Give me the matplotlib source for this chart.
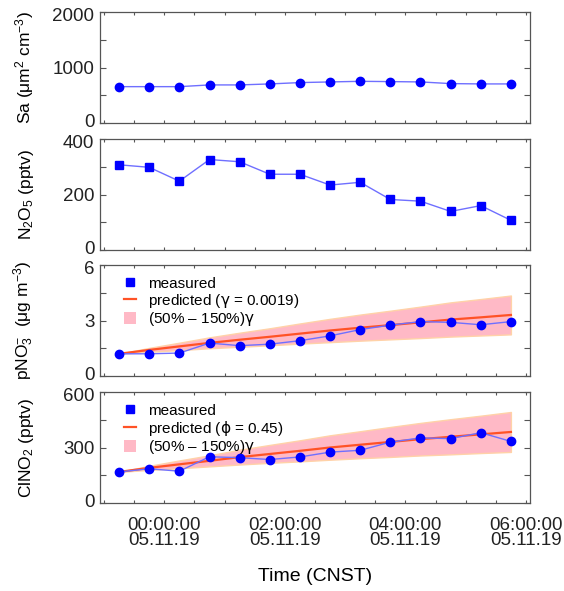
import matplotlib
matplotlib.use("Agg")
import matplotlib.pyplot as plt
import matplotlib.dates as mdates
import matplotlib.transforms as mtransforms
from matplotlib.lines import Line2D
from matplotlib.patches import Patch
import pandas as pd

plt.rcParams['font.family'] = ['Liberation Sans', 'DejaVu Sans']
plt.rcParams['mathtext.fontset'] = 'custom'
plt.rcParams['mathtext.rm'] = 'Liberation Sans'
plt.rcParams['mathtext.it'] = 'Liberation Sans:italic'
plt.rcParams['mathtext.sf'] = 'DejaVu Sans'

# --- data ---
times = pd.date_range('2019-11-04 23:15', periods=14, freq='30min')

sa = [655, 655, 655, 686, 686, 704, 728, 740, 751, 746, 740, 710, 704, 704]
n2o5 = [307, 298, 248, 326, 318, 273, 273, 234, 244, 182, 176, 139, 160, 107]

pno3 = [1.20, 1.20, 1.24, 1.78, 1.64, 1.72, 1.91, 2.17, 2.51, 2.75, 2.94, 2.90, 2.77, 2.94]
pno3_pred = [1.20, 1.41, 1.60, 1.79, 1.96, 2.12, 2.29, 2.46, 2.61, 2.75, 2.90, 3.05, 3.17, 3.30]
pno3_hi = [1.20, 1.52, 1.80, 2.09, 2.34, 2.58, 2.84, 3.09, 3.32, 3.53, 3.75, 3.98, 4.16, 4.35]
pno3_lo = [1.20, 1.31, 1.40, 1.50, 1.58, 1.66, 1.75, 1.83, 1.91, 1.98, 2.05, 2.13, 2.19, 2.25]

clno2 = [168, 185, 172, 250, 245, 235, 249, 275, 285, 329, 352, 348, 380, 333]
clno2_pred = [168, 190, 209, 228, 248, 265, 282, 300, 315, 330, 345, 358, 371, 384]
clno2_hi = [168, 201, 230, 258, 288, 314, 339, 366, 388, 411, 433, 453, 472, 492]
clno2_lo = [168, 179, 188, 198, 208, 217, 225, 234, 242, 249, 257, 263, 270, 276]

xlim = (pd.Timestamp('2019-11-04 22:56'), pd.Timestamp('2019-11-05 06:04'))

BLUE = '#0000ff'
LINE_BLUE = '#6f6fff'
RED = '#ff5226'
PINK = '#ffb9c6'
SPINE = '#555555'

fig = plt.figure(figsize=(5.64, 5.91), dpi=100)
left, width, height = 100 / 564, 430 / 564, 111 / 591
tops = [12, 139, 265, 392]
axes = [fig.add_axes([left, 1 - (t + 111) / 591, width, height]) for t in tops]
ax1, ax2, ax3, ax4 = axes


def style(ax, ymax, labeled, minor):
    ax.set_xlim(xlim)
    ax.set_ylim(0, ymax)
    ax.set_yticks(labeled)
    ax.set_yticks(minor, minor=True)
    ax.xaxis.set_major_locator(mdates.HourLocator(byhour=[0, 2, 4, 6]))
    ax.xaxis.set_minor_locator(mdates.MinuteLocator(byminute=[0, 30]))
    ax.tick_params(axis='both', which='both', direction='in', colors=SPINE,
                   labelcolor='#222222', labelsize=13.5, width=0.8)
    ax.tick_params(axis='y', which='both', length=4.5, left=True, right=True, pad=4)
    ax.tick_params(axis='x', which='both', length=2.5, top=True, bottom=True)
    for s in ax.spines.values():
        s.set_color(SPINE)
        s.set_linewidth(0.9)
    ax.yaxis.set_label_coords(-0.148, 0.5)
    # nudge the end labels slightly apart so neighbouring panels don't collide
    ticks = ax.yaxis.get_major_ticks()
    up = mtransforms.ScaledTranslation(0, 2 / 72, fig.dpi_scale_trans)
    down = mtransforms.ScaledTranslation(0, -2 / 72, fig.dpi_scale_trans)
    ticks[0].label1.set_transform(ticks[0].label1.get_transform() + up)
    ticks[-1].label1.set_transform(ticks[-1].label1.get_transform() + down)


# Sa
ax1.plot(times, sa, '-', color=LINE_BLUE, lw=1)
ax1.plot(times, sa, 'o', color=BLUE, ms=6, mec=BLUE)
style(ax1, 2000, [0, 1000, 2000], [500, 1500])
ax1.set_ylabel('Sa (μm$^2$ cm$^{-3}$)', fontsize=12.5)

# N2O5
ax2.plot(times, n2o5, '-', color=LINE_BLUE, lw=1)
ax2.plot(times, n2o5, 's', color=BLUE, ms=5.5, mec=BLUE)
style(ax2, 400, [0, 200, 400], [100, 300])
ax2.set_ylabel('N$_2$O$_5$ (pptv)', fontsize=12.5)

# pNO3
ax3.fill_between(times, pno3_lo, pno3_hi, color=PINK, ec='#ffd2a8', lw=1)
ax3.plot(times, pno3_pred, '-', color=RED, lw=1.6)
ax3.plot(times, pno3, '-', color=LINE_BLUE, lw=1)
ax3.plot(times, pno3, 'o', color=BLUE, ms=6, mec=BLUE)
style(ax3, 6, [0, 3, 6], [1.5, 4.5])
ax3.set_ylabel('pNO$_3^{-}$  (μg m$^{-3}$)', fontsize=12.5)

# ClNO2
ax4.fill_between(times, clno2_lo, clno2_hi, color=PINK, ec='#ffd2a8', lw=1)
ax4.plot(times, clno2_pred, '-', color=RED, lw=1.6)
ax4.plot(times, clno2, '-', color=LINE_BLUE, lw=1)
ax4.plot(times, clno2, 'o', color=BLUE, ms=6, mec=BLUE)
style(ax4, 600, [0, 300, 600], [150, 450])
ax4.set_ylabel('ClNO$_2$ (pptv)', fontsize=12.5)


def add_legend(ax, pred_label):
    handles = [
        Line2D([], [], ls='none', marker='s', color=BLUE, ms=6),
        Line2D([], [], color=RED, lw=1.6),
        Patch(facecolor=PINK, edgecolor='none'),
    ]
    labels = ['measured', pred_label, r'(50% – 150%)$\mathsf{\gamma}$']
    ax.legend(handles, labels, loc='upper left', bbox_to_anchor=(0.03, 0.99),
              frameon=False, fontsize=11, handlelength=0.8, handleheight=0.8,
              handletextpad=0.8, labelspacing=0.05, borderaxespad=0.3)


add_legend(ax3, r'predicted ($\mathsf{\gamma}$ = 0.0019)')
add_legend(ax4, r'predicted ($\mathsf{\phi}$ = 0.45)')

for ax in axes[:3]:
    ax.tick_params(axis='x', labelbottom=False)

ax4.xaxis.set_major_formatter(mdates.DateFormatter('%H:%M:%S\n%d.%m.%y'))
for lab in ax4.get_xticklabels():
    lab.set_linespacing(0.85)
ax4.tick_params(axis='x', pad=10)
ax4.set_xlabel('Time (CNST)', fontsize=14, labelpad=14)

fig.savefig('out.png', dpi=100)
